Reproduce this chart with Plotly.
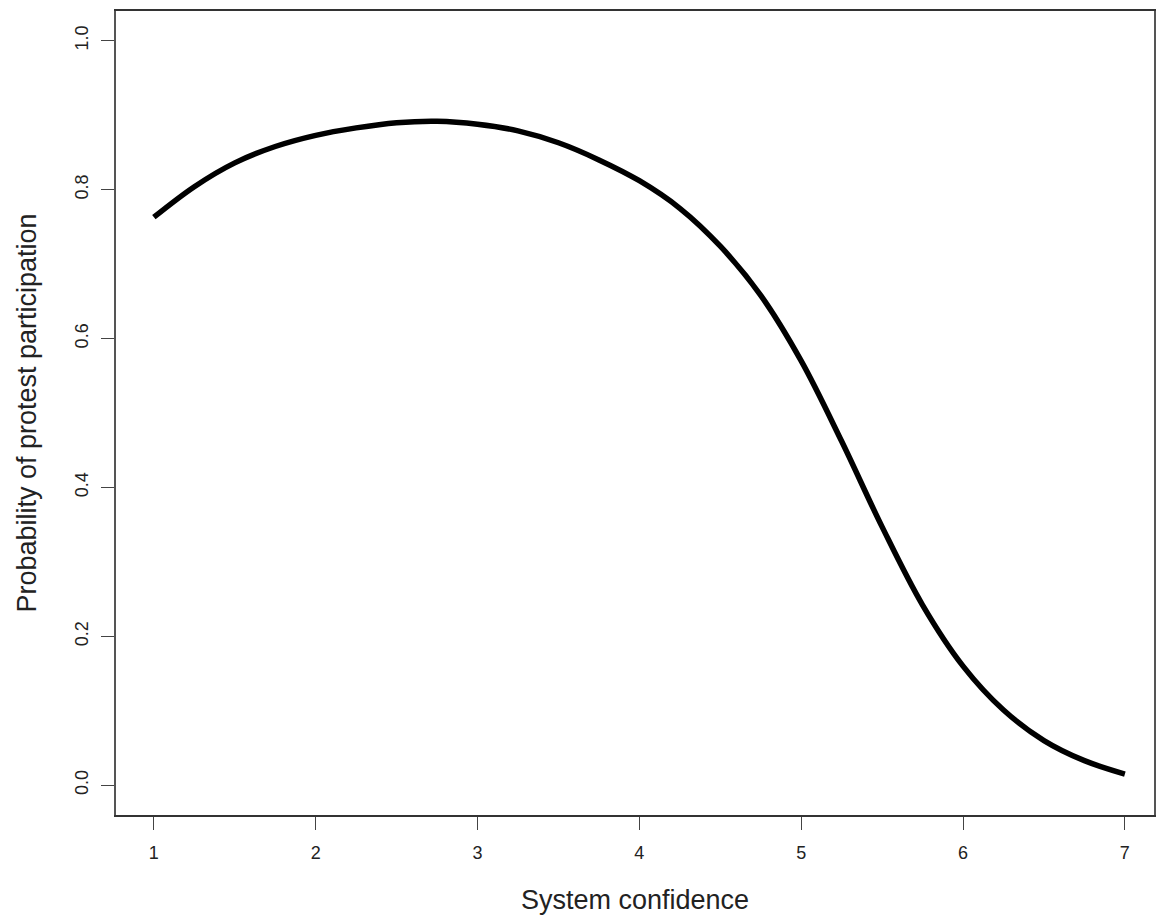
import plotly.graph_objects as go

system_confidence = [1.0, 1.25, 1.5, 1.75, 2.0, 2.25, 2.5, 2.75, 3.0, 3.25, 3.5, 3.75, 4.0,
                     4.25, 4.5, 4.75, 5.0, 5.25, 5.5, 5.75, 6.0, 6.25, 6.5, 6.75, 7.0]
probability = [0.763, 0.804, 0.836, 0.858, 0.873, 0.883, 0.890, 0.892, 0.888, 0.879, 0.863,
               0.840, 0.812, 0.775, 0.724, 0.658, 0.570, 0.462, 0.347, 0.242, 0.160, 0.101,
               0.060, 0.033, 0.015]
x_ticks = [1, 2, 3, 4, 5, 6, 7]
y_ticks = [0.0, 0.2, 0.4, 0.6, 0.8, 1.0]

font_family = "Liberation Sans, Arial, sans-serif"

fig = go.Figure()
fig.add_trace(go.Scatter(
    x=system_confidence, y=probability, mode="lines",
    line=dict(color="black", width=5.5, shape="spline", smoothing=1.0),
    hoverinfo="skip", showlegend=False,
))

fig.update_layout(
    width=1158, height=920,
    margin=dict(l=116, r=2, t=11, b=105),
    paper_bgcolor="white", plot_bgcolor="white",
    font=dict(family=font_family, color="#222"),
    showlegend=False,
)

fig.update_xaxes(
    range=[0.766, 7.18], tickvals=x_ticks, ticktext=[str(v) for v in x_ticks],
    showgrid=False, zeroline=False,
    showline=True, linecolor="#333", linewidth=1.5, mirror=True,
    ticks="outside", ticklen=13, tickwidth=1.2, tickcolor="#444",
    tickfont=dict(size=18, color="#222", family=font_family),
    ticklabelstandoff=8,
    title=dict(text="System confidence", font=dict(size=27, color="#222", family=font_family),
               standoff=28),
)
fig.update_yaxes(
    range=[-0.04, 1.04], tickvals=y_ticks, ticktext=[f"{v:.1f}" for v in y_ticks],
    showgrid=False, zeroline=False,
    showline=True, linecolor="#555", linewidth=1.5, mirror=True,
    ticks="outside", ticklen=13, tickwidth=1.2, tickcolor="#444",
    tickangle=-90,
    tickfont=dict(size=18, color="#222", family=font_family),
    ticklabelstandoff=6,
    title=dict(text="Probability of protest participation",
               font=dict(size=27, color="#222", family=font_family), standoff=28),
)

fig.write_html("out.html")
